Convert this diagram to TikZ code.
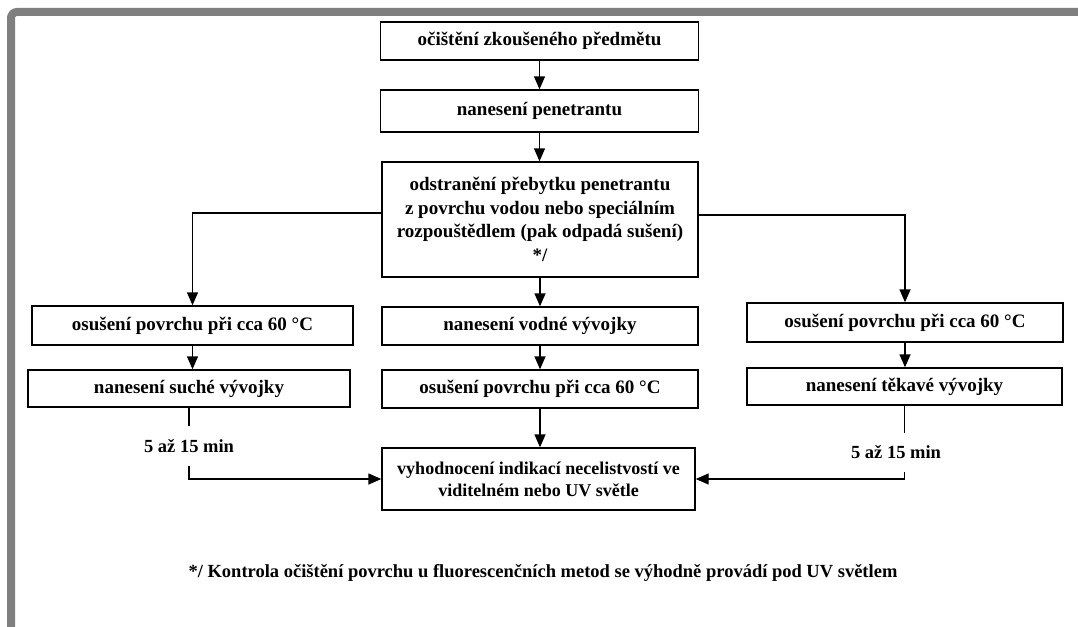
\documentclass[tikz,border=0pt]{standalone}
\usepackage{fontspec}
\setmainfont{Liberation Serif}
\usetikzlibrary{arrows.meta,calc}
\definecolor{framegray}{HTML}{7F7F7F}
\tikzset{
  box/.style={draw=black, line width=1.4pt, fill=white, inner sep=0pt, align=center,
    font=\fontsize{19}{23.5}\selectfont\bfseries},
  conn/.style={draw=black, line width=1.4pt},
  arr/.style={conn, -{Triangle[width=11pt,length=13pt]}},
  lbl/.style={inner sep=0pt, font=\fontsize{18.5}{22}\selectfont\bfseries}
}
\begin{document}
\begin{tikzpicture}[x=1pt,y=-1pt]
\useasboundingbox (0,0) rectangle (1078,626);
\fill[white] (0,0) rectangle (1078,626);
% frame
\draw[framegray, line width=8pt, rounded corners=6pt] (11,640) -- (11,12) -- (1090,12);

% nodes
\node[box, minimum width=318, minimum height=38] (b1) at (539.5,41) {očištění zkoušeného předmětu};
\node[box, minimum width=318, minimum height=42] (b2) at (539.5,111) {nanesení penetrantu};
\node[box, minimum width=316, minimum height=115] (b3) at (540,219.5)
  {odstranění přebytku penetrantu\\z povrchu vodou nebo speciálním\\rozpouštědlem (pak odpadá sušení)\\*/};
\node[box, minimum width=321, minimum height=39] (L1) at (192.5,325.5) {osušení povrchu při cca 60 °C};
\node[box, minimum width=322, minimum height=37] (L2) at (189,388.5) {nanesení suché vývojky};
\node[box, minimum width=316, minimum height=38] (M1) at (540,326) {nanesení vodné vývojky};
\node[box, minimum width=316, minimum height=38] (M2) at (540,389) {osušení povrchu při cca 60 °C};
\node[box, minimum width=316, minimum height=39] (R1) at (905,322.5) {osušení povrchu při cca 60 °C};
\node[box, minimum width=315, minimum height=37] (R2) at (904.5,386.5) {nanesení těkavé vývojky};
\node[box, minimum width=313, minimum height=62, font=\fontsize{18}{22}\selectfont\bfseries] (B) at (538.5,479)
  {vyhodnocení indikací necelistvostí ve\\viditelném nebo UV světle};

\node[lbl, minimum height=40] (t1) at (189,446) {5 až 15 min};
\node[lbl, minimum height=39] (t2) at (896,452.5) {5 až 15 min};

\node[lbl, font=\fontsize{18.5}{20}\selectfont\bfseries] (fn) at (543,573)
  {*/ Kontrola očištění povrchu u fluorescenčních metod se výhodně provádí pod UV světlem};

\coordinate (yl) at (0,213);
\coordinate (yr) at (0,215);

% connectors
\draw[arr] (b1) -- (b1 |- b2.north);
\draw[arr] (b2) -- (b2 |- b3.north);
\draw[arr] (b3) -- (b3 |- M1.north);
\draw[arr] (M1) -- (M1 |- M2.north);
\draw[arr] (M2) -- (M2 |- B.north);
\draw[arr] (b3.west |- yl) -| (L1.north);
\draw[arr] (b3.east |- yr) -| (R1.north);
\draw[arr] (L1) -- (L1 |- L2.north);
\draw[arr] (R1) -- (R1 |- R2.north);
\draw[conn] (L2.south) -- (L2.south |- t1.north);
\draw[arr] (L2.south |- t1.south) |- (B.west);
\draw[conn] (R2.south) -- (R2.south |- t2.north);
\draw[arr] (R2.south |- t2.south) |- (B.east);
\end{tikzpicture}
\end{document}
